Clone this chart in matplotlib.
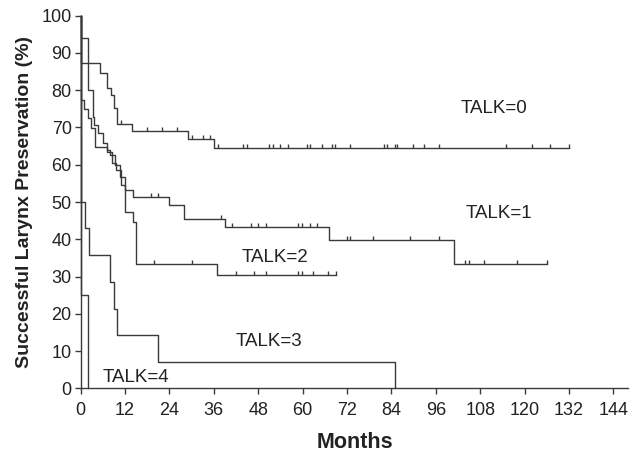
import matplotlib
matplotlib.use("Agg")
import matplotlib.pyplot as plt
import numpy as np

plt.rcParams['font.family'] = ['Liberation Sans', 'DejaVu Sans']

# step curves: event times (months) and survival (%) after each event
t0 = [0, 0.2, 5.2, 7.1, 8.1, 9.0, 9.7, 13.9, 29.1, 36.0]
s0 = [100, 87.2, 84.6, 80.6, 78.7, 75.1, 70.9, 69.0, 66.9, 64.6]
c0 = [10.9, 18, 22, 26, 30, 33, 35, 37, 44, 44.9, 51, 51.9, 53.9, 56,
      61.1, 62, 65.1, 67.8, 68.7, 72.8, 82, 82.9, 84.9, 85.6, 89.9, 92.9,
      96.8, 114.9, 121.9, 126.8, 132.1]

t1 = [0, 0.2, 2.0, 3.2, 3.6, 4.8, 5.9, 7.0, 8.0, 9.2, 10.6, 11.9, 14.0,
      24.0, 28.0, 39.0, 67.1, 100.9]
s1 = [100, 94.1, 80.1, 72.9, 70.7, 68.4, 65.8, 64.0, 62.6, 59.9, 56.8,
      53.2, 51.3, 49.3, 45.4, 43.2, 39.8, 33.3]
c1 = [18.9, 21, 37.9, 41, 46, 48, 50, 58.8, 59.7, 62, 64, 71.9, 72.8,
      78.9, 89, 96.9, 103.9, 105, 109, 118, 126]

t2 = [0, 0.2, 0.9, 1.9, 2.8, 3.9, 7.0, 8.5, 9.6, 11.0, 11.9, 14.0, 15.0, 36.9]
s2 = [100, 77.4, 74.9, 72.5, 69.8, 64.8, 63.5, 60.4, 58.6, 54.6, 47.4,
      44.7, 33.4, 30.3]
c2 = [19.9, 30, 42, 46.9, 50, 58.8, 59.7, 62.9, 66.9, 69]

t3 = [0, 0.2, 1.1, 2.2, 8.0, 8.9, 9.9, 20.9, 85.0]
s3 = [100, 50, 42.9, 35.7, 28.6, 21.4, 14.3, 7.1, 0]
c3 = []

t4 = [0, 0.2, 2.0]
s4 = [100, 25, 0]
c4 = []

groups = [(t0, s0, c0), (t1, s1, c1), (t2, s2, c2), (t3, s3, c3), (t4, s4, c4)]
ends = [132.1, 126, 69, 85, 2.0]

labels = ["TALK=0", "TALK=1", "TALK=2", "TALK=3", "TALK=4"]
label_x = [111.7, 113, 52.5, 50.9, 14.8]
label_y = [75.2, 47.0, 35.2, 12.5, 3.0]

col = '#3a3a3a'
fig = plt.figure(figsize=(6.33, 4.53), dpi=100)
ax = fig.add_axes([0.1275, 0.1428, 0.865, 0.8225])

for (t, s, c), e in zip(groups, ends):
    tt = list(t) + [e]
    ss = list(s) + [s[-1]]
    ax.step(tt, ss, where='post', color=col, lw=1.0, clip_on=False)
    if c:
        c = np.array(c)
        idx = np.searchsorted(t, c, side='right') - 1
        lev = np.array(s)[idx]
        ax.vlines(c, lev, lev + 1.1, color=col, lw=1.0)

for lab, x, y in zip(labels, label_x, label_y):
    ax.text(x, y, lab, fontsize=13.5, color='#222222', ha='center', va='center')

ax.set_xlim(0, 148)
ax.set_ylim(0, 100)
ax.set_xticks(np.arange(0, 145, 12))
ax.set_yticks(np.arange(0, 101, 10))
for sp in ['top', 'right']:
    ax.spines[sp].set_visible(False)
for sp in ['left', 'bottom']:
    ax.spines[sp].set_color(col)
    ax.spines[sp].set_linewidth(1.0)
ax.tick_params(direction='out', length=4.5, width=1.0, color=col,
               labelsize=13, labelcolor='#222222')
ax.tick_params(axis='x', pad=5)
ax.tick_params(axis='y', pad=2)
ax.set_xlabel('Months', fontsize=15.5, fontweight='bold', color='#222222', labelpad=10)
ax.set_ylabel('Successful Larynx Preservation (%)', fontsize=14, fontweight='bold',
              color='#222222', labelpad=6)

fig.savefig('out.png', dpi=100)
